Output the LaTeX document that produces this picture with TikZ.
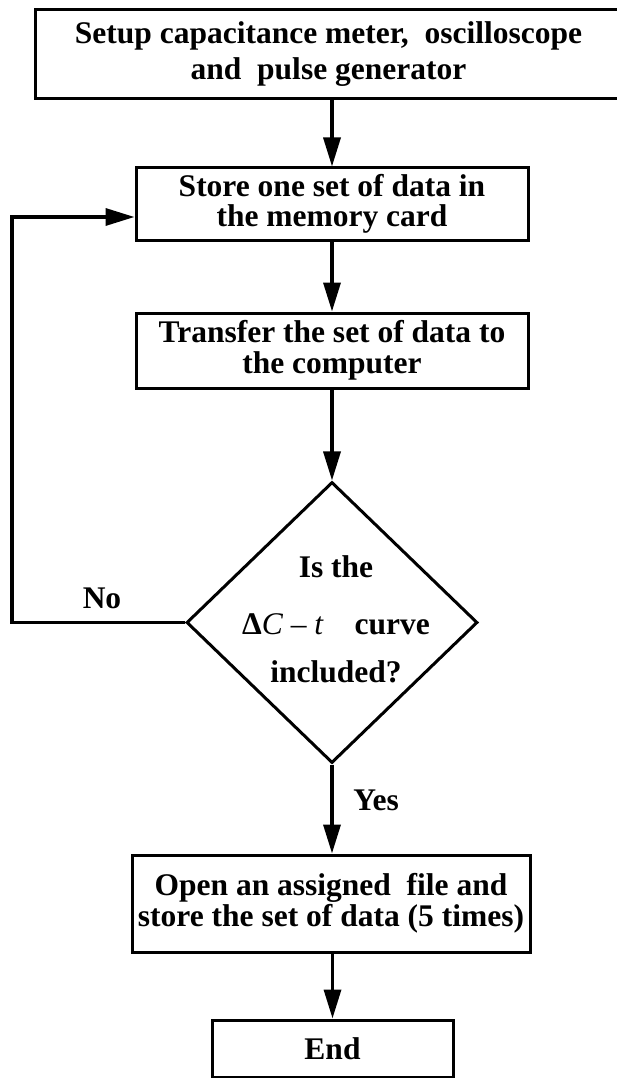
\documentclass[tikz,border=0pt]{standalone}
\usepackage{fontspec}
\setmainfont{Liberation Serif}
\usetikzlibrary{arrows.meta,shapes.geometric}

\begin{document}
\begin{tikzpicture}[x=1pt,y=-1pt,
  font=\fontsize{31.5}{30}\selectfont\bfseries,
  box/.style={draw,line width=3pt,align=center,inner sep=0pt},
  flowline/.style={line width=3.4pt,-{Triangle[length=29pt,width=17pt]}}]
\useasboundingbox (0,0) rectangle (617,1078);
\node[box,minimum width=587pt,minimum height=89pt] (setup) at (328.5,54)
  {Setup capacitance meter,\ \ oscilloscope\\[6pt] and\ \ pulse generator};
\node[box,minimum width=392pt,minimum height=72pt] (store) at (332,204)
  {Store one set of data in\\ the memory card};
\node[box,minimum width=392pt,minimum height=75pt] (transfer) at (332,350.5)
  {Transfer the set of data to\\[1pt] the computer};
\node[draw,line width=3pt,shape=diamond,inner sep=0pt,
  minimum width=291pt,minimum height=281pt] (dec) at (332,622.5) {};
\node[align=center] (dectext) at (336,619)
  {Is the\\[27pt] \textbf{Δ}{\normalfont\itshape C} {\normalfont –} {\normalfont\itshape t}\quad curve\\[18pt] included?};
\node[box,minimum width=398pt,minimum height=97pt] (openfile) at (331,903.5)
  {Open an assigned\ \ file and\\[1pt] store the set of data (5 times)};
\node[box,minimum width=241pt,minimum height=57pt] (finish) at (332.5,1048.5) {End};
\node (no) at (102,598) {No};
\node (yes) at (376,800) {Yes};
\coordinate (ret) at (12,217);
\draw[flowline] (setup.south -| store.north) -- (store.north);
\draw[flowline] (store) -- (transfer);
\draw[flowline] (transfer) -- (dec);
\draw[flowline] (dec) -- (openfile.north -| dec.south);
\draw[flowline] (openfile.south -| finish.north) -- (finish);
\draw[flowline] (dec.west) -| (ret) -- (ret -| store.west);
\end{tikzpicture}
\end{document}
